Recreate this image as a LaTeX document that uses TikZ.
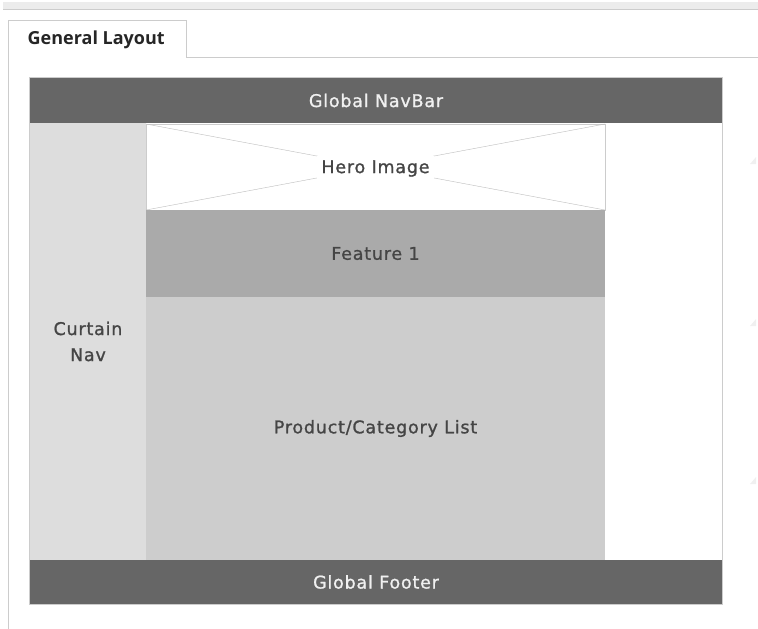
\documentclass[tikz,border=0pt]{standalone}
\usepackage{fontspec}
\setmainfont{Open Sans}
\newfontfamily\boxfont{DejaVu Sans}[FakeBold=1.1, LetterSpace=4.5]
\usetikzlibrary{positioning}
\definecolor{bar}{HTML}{666666}
\definecolor{curtain}{HTML}{DDDDDD}
\definecolor{feature}{HTML}{AAAAAA}
\definecolor{product}{HTML}{CDCDCD}
\definecolor{rim}{HTML}{CCCCCC}
\definecolor{ink}{HTML}{454545}
\tikzset{
  boxtxt/.style={font=\boxfont\fontsize{17.5}{26}\selectfont, text=ink},
  panel/.style={anchor=north west, inner sep=0pt, outer sep=0pt, align=center, boxtxt},
  bartxt/.style={panel, fill=bar, text=white!94!black},
}
\begin{document}
\begin{tikzpicture}[x=1pt, y=-1pt]
		\useasboundingbox (0, 0) rectangle (758, 629);
		% tab strip
		\fill[gray!15] (3, 2) rectangle (758, 9);
		\draw[rim] (3, 9.5) -- (758, 9.5);
		\draw[rim] (8, 629) -- (8, 20.5) -- (186, 20.5) -- (186, 57.5) -- (758, 57.5);
		\node[anchor=west, font=\bfseries\fontsize{18}{20}\selectfont, text=black!85, inner sep=0pt] (tab) at (27.5, 40) {General Layout};
		% page frame
		\draw[rim, line width=1.5pt] (29.5, 77.5) rectangle (722.5, 604.5);
		\node[bartxt, minimum width=692, minimum height=45] (navbar) at (30, 78) {Global NavBar};
		\node[panel, fill=curtain, minimum width=116, minimum height=437] (curtain) at (30, 123) {Curtain\\Nav};
		\node[panel, fill=white, draw=rim, minimum width=459, minimum height=86] (hero) at (146, 124) {};
		\draw[rim!80!gray] (hero.north west) -- (hero.south east) (hero.south west) -- (hero.north east);
		\node[fill=white, boxtxt, inner sep=4pt] (herotxt) at ([yshift=-1.5]hero.center) {Hero Image};
		\node[panel, fill=feature, minimum width=459, minimum height=87] (feature) at (146, 210) {Feature 1};
		\node[panel, fill=product, minimum width=459, minimum height=263] (list) at (146, 297) {Product/Category List};
		\node[bartxt, minimum width=692, minimum height=44] (footer) at (30, 560) {Global Footer};
		% faint marks at the right edge
		\foreach \y in {160, 322, 480}
			\fill[gray!12] (750, \y+4) -- (756, \y-3) -- (756, \y+4) -- cycle;
	\end{tikzpicture}
\end{document}
